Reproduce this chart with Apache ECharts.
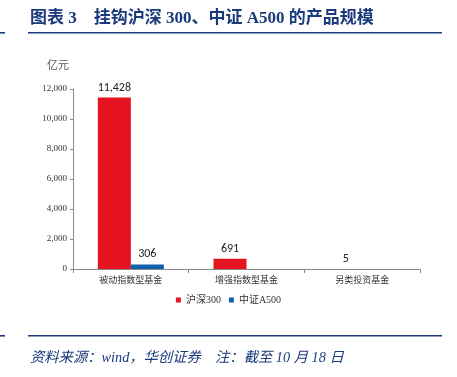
<!DOCTYPE html>
<html><head><meta charset="utf-8">
<script src="https://cdn.jsdelivr.net/npm/echarts@6/dist/echarts.min.js"></script>
<style>html,body{margin:0;padding:0;background:#fff}#c{width:457px;height:377px}</style>
</head><body><div id="c"></div>
<script>
var categories = ['被动指数型基金', '增强指数型基金', '另类投资基金'];
var seriesNames = ['沪深300', '中证A500'];
var hs300 = [11428, 691, 5];
var a500 = [306, 0, 0];
var yTicks = [0, 2000, 4000, 6000, 8000, 10000, 12000];

var chart = echarts.init(document.getElementById('c'));
var navy = '#1a3a7c';
function fmt(v){ return v.toLocaleString('en-US'); }
chart.setOption({
  animation: false,
  graphic: [
    {type:'text', left: 30, top: 10, style:{text:'图表 3    挂钩沪深 300、中证 A500 的产品规模', font:'bold 17px "Liberation Serif","Noto Sans CJK SC",serif', fill: navy}},
    {type:'rect', shape:{x:28,y:32,width:414,height:1.6}, style:{fill: navy}},
    {type:'rect', shape:{x:0,y:32,width:5,height:1.6}, style:{fill: navy}},
    {type:'rect', shape:{x:28,y:335,width:414,height:1.6}, style:{fill: navy}},
    {type:'rect', shape:{x:0,y:335,width:5,height:1.6}, style:{fill: navy}},
    {type:'text', left: 30, top: 351, style:{text:'资料来源：wind，华创证券    注：截至 10 月 18 日', font:'italic 14.3px "Liberation Serif","Noto Sans CJK SC",serif', fill: navy}},
    {type:'text', left: 47, top: 59, style:{text:'亿元', font:'11px "Noto Sans CJK SC",sans-serif', fill:'#555'}}
  ],
  legend: {
    bottom: 67, left: 'center', itemWidth: 5, itemHeight: 5, itemGap: 8,
    icon: 'rect',
    textStyle: {fontSize: 10, color: '#333', fontFamily: '"Liberation Serif","Noto Sans CJK SC", serif'},
    data: seriesNames
  },
  grid: {left: 73, right: 37, top: 89, bottom: 108},
  xAxis: {
    type: 'category', data: categories,
    axisLine: {lineStyle: {color: '#888'}},
    axisTick: {show: true, length: 4, lineStyle: {color: '#888'}},
    axisLabel: {fontSize: 9, color: '#333', margin: 6, fontFamily: '"Noto Sans CJK SC", sans-serif'}
  },
  yAxis: {
    type: 'value', min: 0, max: 12000, interval: 2000,
    splitLine: {show: false},
    axisLine: {show: true, lineStyle: {color: '#888'}},
    axisTick: {show: true, length: 3, lineStyle: {color: '#888'}},
    axisLabel: {fontSize: 9, color: '#333', margin: 6, fontFamily: '"Liberation Serif", serif', formatter: function(v){return fmt(v);}}
  },
  series: [
    {name: seriesNames[0], type: 'bar', data: hs300, barWidth: 33, barGap: '0%',
     itemStyle: {color: '#e5131f'},
     label: {show: true, position: 'top', fontSize: 12, color: '#222', distance: 4, fontFamily: 'Carlito, "Liberation Sans", sans-serif', formatter: function(p){return fmt(p.value);}}},
    {name: seriesNames[1], type: 'bar', data: a500, barWidth: 33,
     itemStyle: {color: '#1060b0'},
     label: {show: true, position: 'top', fontSize: 12, color: '#222', distance: 4, fontFamily: 'Carlito, "Liberation Sans", sans-serif', formatter: function(p){return p.value ? fmt(p.value) : '';}}}
  ]
});
</script></body></html>
